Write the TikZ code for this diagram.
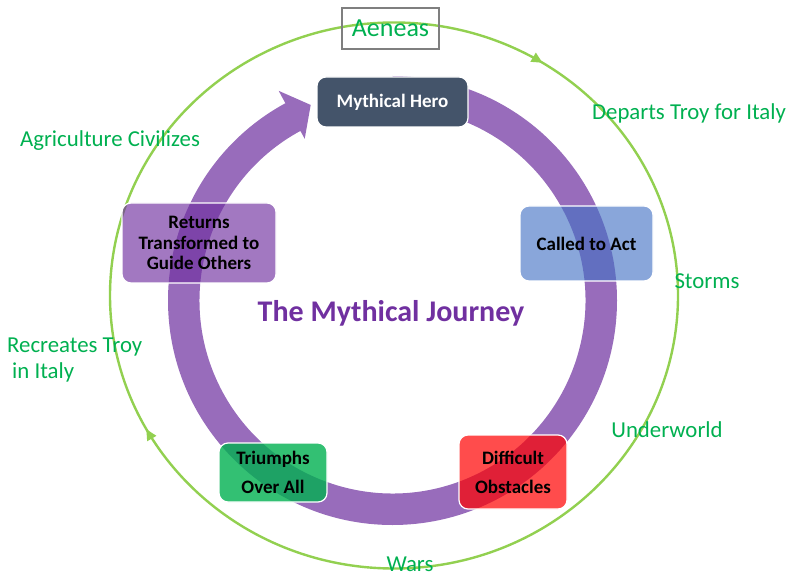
\documentclass[tikz,border=0pt]{standalone}
\usepackage{fontspec}
\setmainfont{Carlito}
\usetikzlibrary{arrows.meta,decorations.markings}
\definecolor{labelgreen}{HTML}{00B050}
\definecolor{loopgreen}{HTML}{92D050}
\definecolor{ringpurple}{RGB}{152,108,187}
\definecolor{heroslate}{HTML}{44546A}
\definecolor{titlepurple}{HTML}{7030A0}
\definecolor{stageblue}{HTML}{4472C4}
\definecolor{stagered}{HTML}{FF0000}
\definecolor{stagegreen}{HTML}{00B050}
\definecolor{stagepurple}{HTML}{7030A0}
\definecolor{framegray}{HTML}{7F7F7F}

\begin{document}
\begin{tikzpicture}[x=1pt,y=1pt,
  stage/.style={draw=white, line width=1.2pt, rounded corners=9pt, inner sep=0pt,
    align=center, text=black, text opacity=1,
    font=\bfseries\fontsize{19}{20.5}\selectfont},
  wide/.style={font=\bfseries\fontsize{19}{29}\selectfont},
  event/.style={text=labelgreen, inner sep=0pt, font=\fontsize{22.8}{26}\selectfont}]
\useasboundingbox (0,0) rectangle (791,576);

% outer voyage loop, running clockwise
\draw[loopgreen, line width=2.4pt, postaction={decorate},
  decoration={markings,
    mark=at position 0.161 with {\arrowreversed{Triangle[length=11pt,width=10pt]}},
    mark=at position 0.58 with {\arrowreversed{Triangle[length=11pt,width=10pt]}}}]
  (394,280.5) ellipse[x radius=284, y radius=273];

% circular arrow of the journey
\begin{scope}[shift={(392.5,275.5)}]
  \fill[ringpurple] (90:224.5) arc[start angle=90, end angle=-241.5, radius=224.5]
    -- (118.5:238.6) -- (112.7:212) -- (118.5:184) -- (118.5:193)
    arc[start angle=-241.5, end angle=90, radius=193] -- cycle;
\end{scope}

% stages
\node[stage, fill=heroslate, text=white, minimum width=151pt, minimum height=50pt]
  (hero) at (392.5,474) {Mythical Hero};
\node[stage, fill=stageblue, fill opacity=0.63, minimum width=133pt, minimum height=75pt]
  (called) at (586.5,332.5) {Called to Act};
\node[stage, wide, fill=stagered, fill opacity=0.7, minimum width=108pt, minimum height=74pt]
  (obstacles) at (513,104) {Difficult\\Obstacles};
\node[stage, wide, fill=stagegreen, fill opacity=0.8, minimum width=108pt, minimum height=59pt]
  (triumphs) at (273,103.5) {Triumphs\\Over All};
\node[stage, fill=stagepurple, fill opacity=0.65, minimum width=154pt, minimum height=80pt]
  (returns) at (199,333) {Returns\\Transformed to\\Guide Others};

\node[text=titlepurple, font=\bfseries\fontsize{30}{34}\selectfont, inner sep=0pt]
  (title) at (391,263) {The Mythical Journey};

% episodes of the voyage
\node[draw=framegray, line width=1.8pt, minimum width=97pt, minimum height=41pt,
  inner sep=0pt, text=labelgreen, font=\fontsize{26}{30}\selectfont]
  (aeneas) at (390.5,547.5) {Aeneas};
\node[event] (departs) at (689,463) {Departs Troy for Italy};
\node[event] (storms) at (707,295) {Storms};
\node[event] (underworld) at (667,146) {Underworld};
\node[event] (wars) at (410,12) {Wars};
\node[event, anchor=west, align=left]
  (recreates) at (7,216) {Recreates Troy\\\hspace*{5pt}in Italy};
\node[event] (agriculture) at (110,435) {Agriculture Civilizes};
\end{tikzpicture}
\end{document}
